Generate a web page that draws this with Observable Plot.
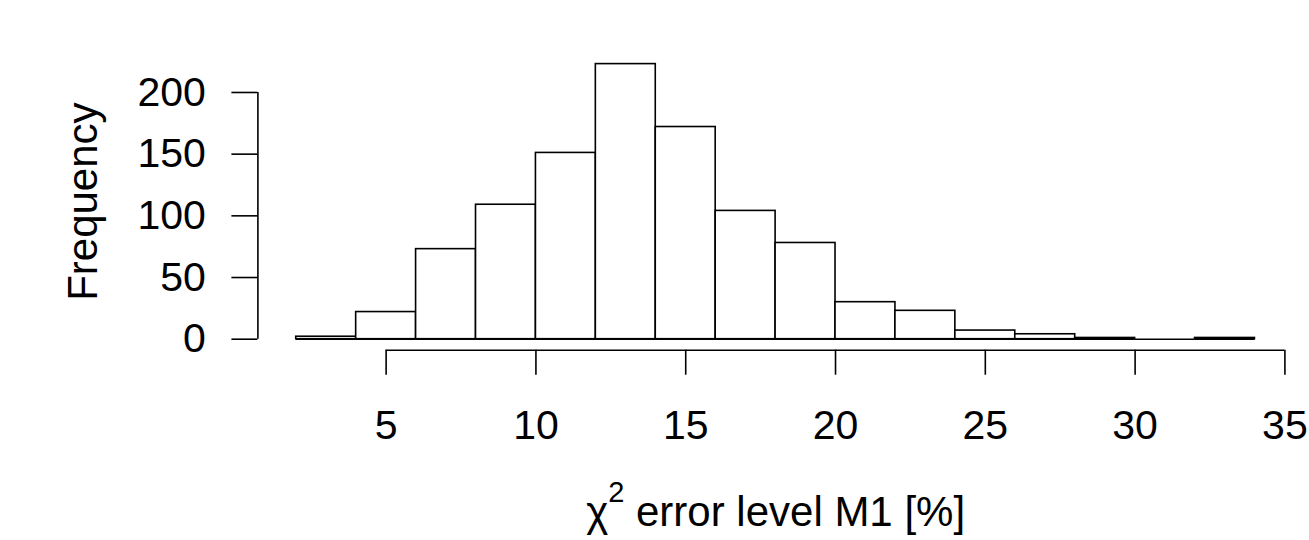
<!DOCTYPE html>
<html><head><meta charset="utf-8">
<script src="https://cdn.jsdelivr.net/npm/d3@7"></script>
<script src="https://cdn.jsdelivr.net/npm/@observablehq/plot@0.6"></script>
<style>html,body{margin:0;padding:0;background:#fff;overflow:hidden}svg{display:block}</style>
</head><body><div id="chart"></div>
<script>
// Histogram data (bin edges and counts)
const binEdges = [2,4,6,8,10,12,14,16,18,20,22,24,26,28,30,32,34];
const counts = [2,22,73,109,151,223,172,104,78,30,23,7,4,1,0,1];
const xTicks = [5,10,15,20,25,30,35];
const yTicks = [0,50,100,150,200];
const yLabel = "Frequency";
const xLabelSymbol = "χ";
const xLabelSup = "2";
const xLabelRest = " error level M1 [%]";

const bins = counts.map((c, i) => ({x1: binEdges[i], x2: binEdges[i + 1], count: c}));
const lo = binEdges[0], hi = binEdges[binEdges.length - 1];
const maxC = d3.max(counts);
const xDomain = [lo - 0.04 * (hi - lo), hi + 0.04 * (hi - lo)];
const yDomain = [-0.04 * maxC, 1.04 * maxC];
const font = "'Liberation Sans', Arial, Helvetica, sans-serif";
const fullTitle = xLabelSymbol + xLabelSup + xLabelRest;

const chart = Plot.plot({
  width: 1309, height: 540,
  marginLeft: 257.4, marginRight: 16.2, marginTop: 52.6, marginBottom: 190.3,
  style: {fontFamily: font, fontSize: "40px", background: "white", color: "black"},
  x: {domain: xDomain, axis: null},
  y: {domain: yDomain, axis: null},
  marks: [
    Plot.rect(bins, {x1: "x1", x2: "x2", y1: 0, y2: "count", fill: "white", stroke: "black", strokeWidth: 1.6}),
    Plot.ruleY(bins, {x1: "x1", x2: "x2", y: 0, stroke: "black", strokeWidth: 1.6}),
    Plot.ruleY([yDomain[0]], {x1: xTicks[0], x2: xTicks[xTicks.length - 1], stroke: "black", strokeWidth: 1.6}),
    Plot.ruleX([xDomain[0]], {y1: yTicks[0], y2: yTicks[yTicks.length - 1], stroke: "black", strokeWidth: 1.6}),
    Plot.axisX(xTicks, {anchor: "bottom", tickSize: 25, tickPadding: 35, tickFormat: d => String(d), label: null, fontSize: 41, strokeWidth: 1.6, stroke: "black"}),
    Plot.axisY(yTicks, {anchor: "left", tickSize: 26, tickPadding: 26, tickFormat: d => String(d), label: null, fontSize: 41, strokeWidth: 1.6, stroke: "black"}),
    Plot.text([yLabel], {frameAnchor: "left", textAnchor: "middle", dx: -174, rotate: -90, fontSize: 42, fill: "black"}),
    Plot.text([fullTitle], {frameAnchor: "bottom", textAnchor: "middle", dy: 176, fontSize: 42, fill: "black"})
  ]
});
document.getElementById("chart").appendChild(chart);

// Format the x-axis title with a real superscript
d3.select(chart).selectAll("text").filter(function() { return this.textContent === fullTitle; }).each(function() {
  const t = d3.select(this);
  t.text(null);
  t.append("tspan").text(xLabelSymbol);
  t.append("tspan").attr("dy", "-24px").attr("font-size", "29px").text(xLabelSup);
  t.append("tspan").attr("dy", "24px").text(xLabelRest);
});
</script>
</body></html>
